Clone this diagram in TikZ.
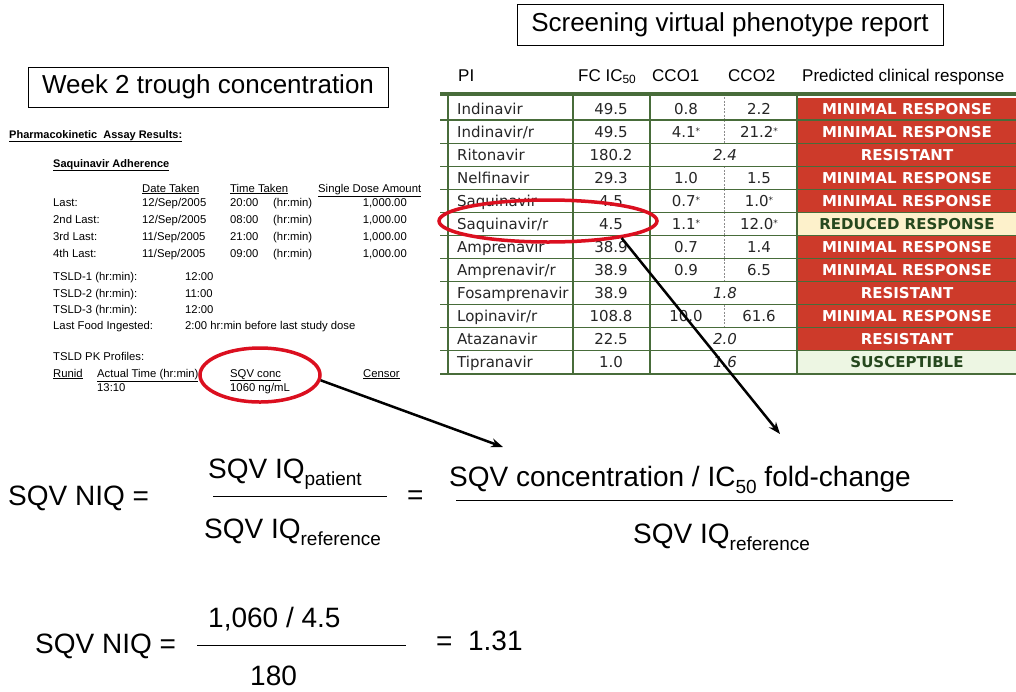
\documentclass[tikz,border=0pt]{standalone}
\usepackage{fontspec}
\setmainfont{Liberation Sans}
\newfontfamily\tabfont{DejaVu Sans}
\usetikzlibrary{arrows.meta,shapes.geometric}
\definecolor{RingClr}{rgb}{0.86,0.06,0.12}
\definecolor{GridClr}{RGB}{72,108,58}
\definecolor{BadClr}{RGB}{205,58,42}
\definecolor{MidClr}{RGB}{253,241,203}
\definecolor{OkClr}{RGB}{237,246,227}
\definecolor{OkTxt}{RGB}{38,72,30}
\newcommand\lowsub[1]{\raisebox{-0.25em}{\fontsize{19}{20}\selectfont #1}}
\newcommand\stx{\raisebox{3pt}{\fontsize{9}{9}\selectfont*}}

\begin{document}
\begin{tikzpicture}[x=1pt,y=-1pt,
  pk/.style={font=\fontsize{11.3}{12}\selectfont,inner sep=0pt,anchor=base west},
  pkr/.style={pk,anchor=base east},
  hdr/.style={font=\fontsize{17}{19}\selectfont,inner sep=0pt,anchor=base west},
  cell/.style={font=\tabfont\fontsize{15}{17}\selectfont,text=black!85,inner sep=0pt,anchor=base},
  titlebox/.style={draw,line width=0.8pt,font=\fontsize{26}{28}\selectfont,inner sep=0pt},
  resp/.style={font=\tabfont\bfseries\fontsize{15}{17}\selectfont,minimum width=219pt,minimum height=22pt,inner sep=0pt},
  respbad/.style={resp,fill=BadClr,text=white},
  respmid/.style={resp,fill=MidClr,text=OkTxt},
  respok/.style={resp,fill=OkClr,text=OkTxt},
  gridline/.style={GridClr,line width=1.2pt},
  ring/.style={ellipse,draw=RingClr,line width=3.5pt,inner sep=0pt},
  link/.style={-{Stealth[length=12pt,width=9pt]},line width=2.5pt},
  eqn/.style={font=\fontsize{28}{32}\selectfont,inner sep=0pt,anchor=base west}]
\fill[white] (0,0) rectangle (1016,691);
\useasboundingbox (0,0) rectangle (1016,691);

\node[titlebox,minimum width=360pt,minimum height=40pt] (weekttl) at (208,87) {Week 2 trough concentration};
\node[titlebox,minimum width=426pt,minimum height=41pt] (vpttl) at (730,24.5) {Screening virtual phenotype report};

% assay printout
\node[pk,font=\fontsize{11}{12}\selectfont\bfseries] (pkhead) at (9,138) {\underline{Pharmacokinetic\ \ Assay Results:}};
\node[pk,font=\fontsize{11}{12}\selectfont\bfseries] (sqvadh) at (53,167) {\underline{Saquinavir Adherence}};
\node[pk] (hdate) at (142,192) {\underline{Date Taken}};
\node[pk] (htime) at (230,192) {\underline{Time Taken}};
\node[pk] (hdose) at (318,192) {\underline{Single Dose Amount}};
\foreach \lbl/\dt/\tm [count=\j] in {Last:/{12/Sep/2005}/20:00,2nd Last:/{12/Sep/2005}/08:00,
    3rd Last:/{11/Sep/2005}/21:00,4th Last:/{11/Sep/2005}/09:00}{
  \node[pk] (dlbl\j) at (53,189+17*\j) {\lbl};
  \node[pk] (ddate\j) at (142,189+17*\j) {\dt};
  \node[pk] (dtime\j) at (230,189+17*\j) {\tm};
  \node[pk] (dunit\j) at (273,189+17*\j) {(hr:min)};
  \node[pkr] (damt\j) at (407,189+17*\j) {1,000.00};
}
\foreach \lbl/\val [count=\j] in {TSLD-1 (hr:min):/12:00,TSLD-2 (hr:min):/11:00,TSLD-3 (hr:min):/12:00,
    Last Food Ingested:/2:00 hr:min before last study dose}{
  \node[pk] (tlbl\j) at (53,264.5+16.3*\j) {\lbl};
  \node[pk] (tval\j) at (185,264.5+16.3*\j) {\val};
}
\node[pk] (tsldpk) at (53,360) {TSLD PK Profiles:};
\node[pk] (hrun) at (53,377) {\underline{Runid}};
\node[pk] (hact) at (97,377) {\underline{Actual Time (hr:min)}};
\node[pk] (hconc) at (230,377) {\underline{SQV conc}};
\node[pk] (hcens) at (363,377) {\underline{Censor}};
\node[pk] (acttime) at (97,391) {13:10};
\node[pk] (concval) at (230,391) {1060 ng/mL};

% phenotype table
\node[hdr] (hpi) at (458,81) {PI};
\node[hdr] (hfc) at (578,81) {FC IC\textsubscript{50}};
\node[hdr] (hcco1) at (652,81) {CCO1};
\node[hdr] (hcco2) at (728,81) {CCO2};
\node[hdr] (hresp) at (802,81) {Predicted clinical response};

\foreach \nm/\fc/\ca/\cb/\rs/\kind [count=\i] in {
    Indinavir/49.5/0.8/2.2/MINIMAL RESPONSE/respbad,
    {Indinavir/r}/49.5/{4.1\stx}/{21.2\stx}/MINIMAL RESPONSE/respbad,
    Ritonavir/180.2/{}/{}/RESISTANT/respbad,
    Nelfinavir/29.3/1.0/1.5/MINIMAL RESPONSE/respbad,
    Saquinavir/4.5/{0.7\stx}/{1.0\stx}/MINIMAL RESPONSE/respbad,
    {Saquinavir/r}/4.5/{1.1\stx}/{12.0\stx}/REDUCED RESPONSE/respmid,
    Amprenavir/38.9/0.7/1.4/MINIMAL RESPONSE/respbad,
    {Amprenavir/r}/38.9/0.9/6.5/MINIMAL RESPONSE/respbad,
    Fosamprenavir/38.9/{}/{}/RESISTANT/respbad,
    {Lopinavir/r}/108.8/10.0/61.6/MINIMAL RESPONSE/respbad,
    Atazanavir/22.5/{}/{}/RESISTANT/respbad,
    Tipranavir/1.0/{}/{}/SUSCEPTIBLE/respok}{
  \pgfmathsetmacro\yc{85.46+23.08*\i}
  \node[\kind] (resp\i) at (907,\yc) {\rs};
  \node[cell,anchor=base west] (pi\i) at (457,\yc+5.5) {\nm};
  \node[cell] (fc\i) at (611,\yc+5.5) {\fc};
  \node[cell] (ca\i) at (686,\yc+5.5) {\ca};
  \node[cell] (cb\i) at (759,\yc+5.5) {\cb};
}
\foreach \r/\v in {3/2.4,9/1.8,11/2.0,12/1.6}
  \node[cell,font=\tabfont\itshape\fontsize{15}{17}\selectfont] (cc\r) at (725,{85.46+23.08*\r+5.5}) {\v};
\foreach \r in {1,2,4,5,6,7,8,10}
  \draw[black!45,line width=0.6pt,dash pattern=on 2pt off 1.5pt] (724,{97+23.08*(\r-1)}) -- (724,{97+23.08*\r});
\foreach \k in {1,...,11}
  \draw[gridline] (440,{97+23.08*\k}) -- (1016,{97+23.08*\k});
\foreach \xv in {448,573,650,797}
  \draw[gridline] (\xv,96) -- (\xv,374);
\draw[GridClr,line width=4pt] (440,94) -- (1016,94);
\draw[GridClr,line width=2pt] (440,374) -- (1016,374);

% rings and arrows
\node[ring,minimum width=120pt,minimum height=54pt] (ringconc) at (260,375) {};
\node[ring,minimum width=218pt,minimum height=42pt] (ringsaq) at (548,221) {};
\coordinate (tipconc) at (503,447);
\coordinate (tipsaq) at (780,434);
\draw[link] (ringconc.-5) -- (tipconc);
\draw[link] (ringsaq.-13) -- (tipsaq);

% NIQ definition
\node[eqn] (niqa) at (8,505) {SQV NIQ =};
\node[eqn] (numa) at (208,478) {SQV IQ\lowsub{patient}};
\node[eqn] (dena) at (204,538) {SQV IQ\lowsub{reference}};
\draw[line width=1pt] (213,496) -- (387,496);
\node[eqn] (eqa) at (407,504) {=};
\node[eqn] (numb) at (449,486) {SQV concentration / IC\lowsub{50} fold-change};
\draw[line width=1pt] (456,500) -- (953,500);
\node[eqn] (denb) at (633,543) {SQV IQ\lowsub{reference}};

% worked value
\node[eqn] (niqb) at (35,653) {SQV NIQ =};
\node[eqn] (numc) at (208,627) {1,060 / 4.5};
\draw[line width=1pt] (197,645) -- (406,645);
\node[eqn] (denc) at (250,685) {180};
\node[eqn] (eqb) at (436,650) {=\ \ 1.31};
\end{tikzpicture}
\end{document}
